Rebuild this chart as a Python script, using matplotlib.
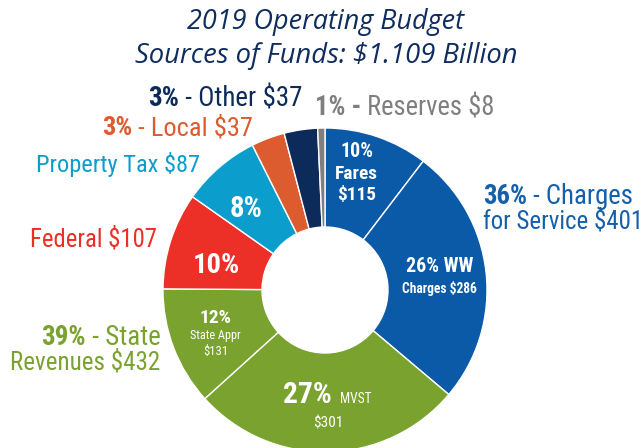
import matplotlib
matplotlib.use("Agg")
import matplotlib.pyplot as plt
from matplotlib import font_manager

# values in $ millions, clockwise from 12 o'clock
sources = ["Fares", "WW Charges", "MVST", "State Appr", "Federal",
           "Property Tax", "Local", "Other", "Reserves"]
amounts = [115, 286, 301, 131, 107, 87, 37, 37, 8]
colors = ["#0a5aa8", "#0a5aa8", "#7aa22f", "#7aa22f", "#ec2f27",
          "#0b9dcc", "#dc5b2f", "#0c2b5a", "#7f7f80"]

NAVY = "#0f2d5e"
W, H = 644, 448


# ---- font choice: a condensed sans with regular and bold if there is one
def wnum(w):
    if isinstance(w, str):
        return font_manager.weight_dict.get(w, 400)
    return w


fams = {}
italic_ok = set()
for f in font_manager.fontManager.ttflist:
    fams.setdefault(f.name, set()).add(wnum(f.weight))
    if f.style in ("italic", "oblique"):
        italic_ok.add(f.name)

narrow = [n for n in fams if ("narrow" in n.lower() or "condensed" in n.lower())
          and "mono" not in n.lower() and "serif" not in n.lower()]
pref = ["Liberation Sans Narrow", "Roboto Condensed", "Open Sans Condensed",
        "Noto Sans Condensed", "DejaVu Sans Condensed"]
narrow.sort(key=lambda n: pref.index(n) if n in pref else 99)

REG = ("Liberation Sans", "normal")
BOLD = ("Liberation Sans", "bold")
for n in narrow:
    ws = fams[n]
    if any(350 <= w <= 500 for w in ws):
        REG = (n, 400)
        break
for n in narrow:
    if max(fams[n]) >= 600:
        BOLD = (n, max(w for w in fams[n] if w <= 800) if any(600 <= w <= 800 for w in fams[n]) else max(fams[n]))
        break

TITLE = "Open Sans" if "Open Sans" in italic_ok else "DejaVu Sans"


def py(y):
    # pixel row -> data y
    return H - y


fig = plt.figure(figsize=(6.44, 4.48), dpi=100)
ax = fig.add_axes([0, 0, 1, 1])

ax.pie(amounts, colors=colors, startangle=90, counterclock=False,
       center=(325, py(290)), radius=162, frame=True,
       wedgeprops=dict(width=99, edgecolor="white", linewidth=1))
ax.set_xlim(0, W)
ax.set_ylim(0, H)
ax.set_aspect("equal")
ax.axis("off")

renderer = fig.canvas.get_renderer()


def label(x0, x1, base, parts, color):
    # parts: list of (text, bold); scaled so the whole line spans x0..x1
    arts = []
    prev = None
    for s, b in parts:
        fam, wt = BOLD if b else REG
        kw = dict(fontsize=15, color=color, family=[fam, "DejaVu Sans"], fontweight=wt)
        if prev is None:
            t = ax.text(x0, py(base), s, ha="left", va="baseline", **kw)
        else:
            t = ax.annotate(s, xy=(1, 0), xycoords=prev, ha="left", va="bottom", **kw)
        arts.append(t)
        prev = t
    total = sum(a.get_window_extent(renderer).width for a in arts)
    for a in arts:
        a.set_fontsize(15 * (x1 - x0) / total)
    return arts


def title_line(x0, x1, base, s):
    t = ax.text(x0, py(base), s, ha="left", va="baseline", fontsize=16,
                style="italic", color=NAVY, family=TITLE)
    t.set_fontsize(16 * (x1 - x0) / t.get_window_extent(renderer).width)


title_line(187, 465, 29, "2019 Operating Budget")
title_line(135, 518, 63, "Sources of Funds: $1.109 Billion")

# outside labels
label(148, 302, 106, [("3%", True), (" - Other $37", False)], "#0c2b5a")
label(315, 495, 115, [("1% -", True), (" Reserves $8", False)], "#7f7f80")
label(102, 253, 135, [("3%", True), (" - Local $37", False)], "#dc5b2f")
label(36, 200, 172, [("Property Tax $87", False)], "#0b9dcc")
label(30, 157, 246, [("Federal $107", False)], "#ec2f27")
label(41, 160, 345, [("39%", True), (" - State", False)], "#7aa22f")
label(10, 160, 369, [("Revenues $432", False)], "#7aa22f")
label(483, 633, 204, [("36%", True), (" - Charges", False)], "#1560aa")
label(483, 643, 228, [("for Service $401", False)], "#1560aa")

# labels inside the ring
WH = "white"
label(340, 373, 157, [("10%", True)], WH)
label(335, 378, 179, [("Fares", True)], WH)
label(337, 376, 200, [("$115", True)], WH)
label(230, 263, 217, [("8%", True)], WH)
label(193, 240, 273, [("10%", True)], WH)
label(406, 473, 272, [("26% WW", True)], WH)
label(402, 477, 293, [("Charges $286", True)], WH)
label(200, 232, 323, [("12%", True)], WH)
label(190, 241, 339, [("State Appr", False)], WH)
label(203, 228, 355, [("$131", False)], WH)
label(283, 332, 403, [("27%", True)], WH)
label(340, 372, 403, [("MVST", False)], WH)
label(313, 343, 427, [("$301", False)], WH)

fig.savefig("out.png", dpi=100, facecolor="white")
